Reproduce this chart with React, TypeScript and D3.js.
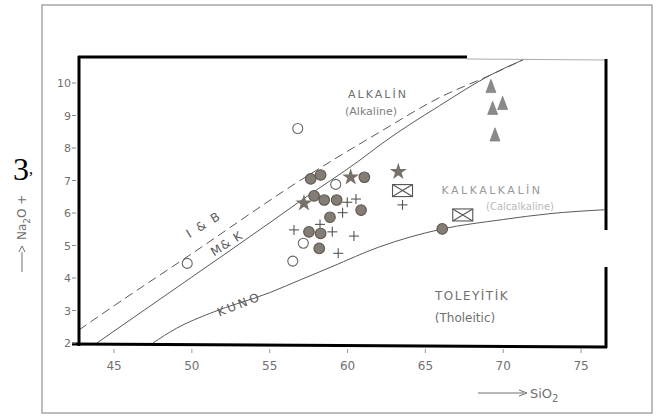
import React from "react";
import * as d3 from "d3";

// axis ticks
const xTicks = [45, 50, 55, 60, 65, 70, 75];
const yTicks = [2, 3, 4, 5, 6, 7, 8, 9, 10];

// boundary curves [SiO2, Na2O+K2O]
const ibLine: [number, number][] = [
  [42.75, 2.4], [44.1, 2.85], [50, 4.75], [56.95, 7.0], [62.1, 8.5],
  [65.9, 9.55], [69.2, 10.25], [71.3, 10.72],
];
const mkLine: [number, number][] = [
  [43.9, 2.0], [50, 4.03], [55, 5.7], [57, 6.38], [60.8, 7.63],
  [62.1, 8.1], [65.9, 9.3], [69.2, 10.25], [71.3, 10.72],
];
const kunoLine: [number, number][] = [
  [47.5, 2.0], [49, 2.45], [51.2, 2.92], [55, 3.55], [57, 3.95],
  [59, 4.35], [62, 4.95], [66, 5.5], [70, 5.8], [73, 5.98], [76.5, 6.1],
];
const kunoGap = [51.3, 54.9];

// samples
const filledCircles: [number, number][] = [
  [57.63, 7.05], [58.27, 7.17], [61.08, 7.1], [57.85, 6.53], [58.5, 6.4],
  [59.3, 6.4], [60.87, 6.09], [58.87, 5.87], [57.52, 5.42], [58.27, 5.37],
  [58.18, 4.91], [66.08, 5.51],
];
const openCircles: [number, number][] = [
  [56.8, 8.6], [59.24, 6.88], [57.16, 5.07], [56.48, 4.52], [49.7, 4.45],
];
const stars: [number, number][] = [[60.2, 7.1], [57.2, 6.3], [63.26, 7.27]];
const plusses: [number, number][] = [
  [59.98, 6.33], [60.54, 6.43], [59.68, 6.01], [58.23, 5.65], [56.56, 5.48],
  [59.02, 5.42], [60.41, 5.29], [59.4, 4.76], [63.53, 6.25],
];
const envelopes: [number, number][] = [[63.53, 6.69], [67.4, 5.94]];
const triangles: [number, number][] = [
  [69.21, 9.84], [69.32, 9.17], [69.96, 9.32], [69.47, 8.35],
];

const x = d3.scaleLinear().domain([42.75, 76.6]).range([79, 606]);
const y = d3.scaleLinear().domain([2, 10.8]).range([343, 57]);

const line = d3
  .line<[number, number]>()
  .x((d) => x(d[0]))
  .y((d) => y(d[1]))
  .curve(d3.curveMonotoneX);

const kunoPath = d3
  .line<[number, number]>()
  .x((d) => x(d[0]))
  .y((d) => y(d[1]))
  .defined((d) => d[0] < kunoGap[0] || d[0] > kunoGap[1])
  .curve(d3.curveMonotoneX);

const starPath = d3.symbol(d3.symbolStar, 90)() as string;
const triPath = d3.symbol(d3.symbolTriangle, 60)() as string;

const font = "'DejaVu Sans', sans-serif";
const ink = "#707070";

export default function App() {
  const x0 = x.range()[0];
  const x1 = x.range()[1];
  const yb = y(2);
  const yt = y.range()[1];
  return (
    <svg
      width={661}
      height={419}
      style={{ position: "absolute", left: 0, top: 0, background: "#fff" }}
    >
      {/* outer border of scan */}
      <rect x={42} y={5} width={610} height={408} fill="none" stroke="#999" strokeWidth={1.3} />

      {/* curves */}
      <path d={line(ibLine) || ""} fill="none" stroke="#5a5a5a" strokeWidth={1} strokeDasharray="9,5" />
      <path d={line(mkLine) || ""} fill="none" stroke="#5a5a5a" strokeWidth={1} />
      <path d={kunoPath(kunoLine) || ""} fill="none" stroke="#5a5a5a" strokeWidth={1} />

      {/* frame */}
      <line x1={x0} y1={yt - 1} x2={x0} y2={yb + 3} stroke="#000" strokeWidth={3} />
      <line x1={x0 - 1} y1={yt} x2={467} y2={yt} stroke="#000" strokeWidth={3} />
      <line x1={467} y1={yt + 2} x2={x1} y2={yt + 3} stroke="#aaa" strokeWidth={1} />
      <line x1={x1} y1={yt + 2} x2={x1} y2={230} stroke="#000" strokeWidth={3} />
      <line x1={x1} y1={267} x2={x1} y2={yb + 5} stroke="#000" strokeWidth={3} />
      <line x1={72} y1={yb + 1} x2={x1 + 1} y2={yb + 4} stroke="#000" strokeWidth={3} />

      {/* x ticks */}
      {xTicks.map((t) => (
        <g key={t}>
          <line x1={x(t)} y1={yb + 6} x2={x(t)} y2={yb + 10} stroke="#999" strokeWidth={1} />
          <text x={x(t)} y={yb + 27} textAnchor="middle" fontFamily={font} fontSize={12} fill={ink}>
            {t}
          </text>
        </g>
      ))}
      {/* y ticks */}
      {yTicks.map((t) => (
        <g key={t}>
          <line x1={72} y1={y(t)} x2={76} y2={y(t)} stroke="#888" strokeWidth={1} />
          <text x={71} y={y(t) + 4} textAnchor="end" fontFamily={font} fontSize={11} fill={ink}>
            {t}
          </text>
        </g>
      ))}

      {/* axis titles */}
      <g transform="translate(22,272) rotate(-90)">
        <line x1={0} y1={0} x2={20} y2={0} stroke={ink} strokeWidth={1} />
        <path d="M20,-3 L26,0 L20,3" fill="none" stroke={ink} strokeWidth={1} />
        <text x={32} y={4} fontFamily={font} fontSize={12} fill={ink}>
          Na<tspan fontSize={9} dy={4}>2</tspan>
          <tspan dy={-4}>O  +</tspan>
        </text>
      </g>
      <text x={13} y={180} fontFamily="'Liberation Serif', serif" fontSize={32} fill="#000">3</text>
      <text x={29} y={174} fontFamily="'Liberation Serif', serif" fontSize={16} fill="#000">,</text>

      <line x1={478} y1={393} x2={524} y2={393} stroke={ink} strokeWidth={1} />
      <path d="M519,390 L527,393 L519,396" fill="none" stroke={ink} strokeWidth={1} />
      <text x={530} y={398} fontFamily={font} fontSize={13} fill={ink}>
        SiO
        <tspan fontSize={10} dy={4}>2</tspan>
      </text>

      {/* region labels */}
      <text x={378} y={98} textAnchor="middle" fontFamily={font} fontSize={11} fill={ink} letterSpacing={2}>
        ALKALİN
      </text>
      <text x={371} y={115} textAnchor="middle" fontFamily={font} fontSize={11} fill="#808080">
        (Alkaline)
      </text>
      <text x={492} y={194} textAnchor="middle" fontFamily={font} fontSize={11} fill="#999" letterSpacing={2.5}>
        KALKALKALİN
      </text>
      <text x={520} y={210} textAnchor="middle" fontFamily={font} fontSize={10} fill="#bbb">
        (Calcalkaline)
      </text>
      <text x={472} y={300} textAnchor="middle" fontFamily={font} fontSize={12} fill={ink} letterSpacing={1.5}>
        TOLEYİTİK
      </text>
      <text x={465} y={322} textAnchor="middle" fontFamily={font} fontSize={12} fill={ink}>
        (Tholeitic)
      </text>

      {/* line labels */}
      <text transform="translate(241,308) rotate(-22)" textAnchor="middle" fontFamily={font} fontSize={12} fill="#5a5a5a" letterSpacing={3}>
        KUNO
      </text>
      <text transform="translate(206,228) rotate(-32)" textAnchor="middle" fontFamily={font} fontSize={12} fill="#5a5a5a" letterSpacing={2}>
        I &amp; B
      </text>
      <text transform="translate(229,247) rotate(-32)" textAnchor="middle" fontFamily={font} fontSize={12} fill="#5a5a5a" letterSpacing={1}>
        M&amp; K
      </text>

      {/* samples */}
      {openCircles.map((d, i) => (
        <circle key={"o" + i} cx={x(d[0])} cy={y(d[1])} r={5} fill="#fff" stroke="#666" strokeWidth={1.1} />
      ))}
      {plusses.map((d, i) => (
        <g key={"p" + i} stroke="#555" strokeWidth={1.1}>
          <line x1={x(d[0]) - 5} y1={y(d[1])} x2={x(d[0]) + 5} y2={y(d[1])} />
          <line x1={x(d[0])} y1={y(d[1]) - 5} x2={x(d[0])} y2={y(d[1]) + 5} />
        </g>
      ))}
      {filledCircles.map((d, i) => (
        <circle key={"f" + i} cx={x(d[0])} cy={y(d[1])} r={5.3} fill="#847d75" stroke="#5c5650" strokeWidth={1.1} />
      ))}
      {stars.map((d, i) => (
        <path key={"s" + i} d={starPath} transform={`translate(${x(d[0])},${y(d[1])})`} fill="#77716b" />
      ))}
      {envelopes.map((d, i) => {
        const cx = x(d[0]);
        const cy = y(d[1]);
        return (
          <g key={"e" + i} fill="none" stroke="#555" strokeWidth={1.1}>
            <rect x={cx - 10} y={cy - 6} width={20} height={12} />
            <path d={`M${cx - 10},${cy - 6} L${cx + 10},${cy + 6} M${cx + 10},${cy - 6} L${cx - 10},${cy + 6}`} />
          </g>
        );
      })}
      {triangles.map((d, i) => (
        <path
          key={"t" + i}
          d={triPath}
          transform={`translate(${x(d[0])},${y(d[1])}) scale(0.85,1.3)`}
          fill="#8a8a8a"
          stroke="#777"
          strokeWidth={0.6}
        />
      ))}
    </svg>
  );
}
